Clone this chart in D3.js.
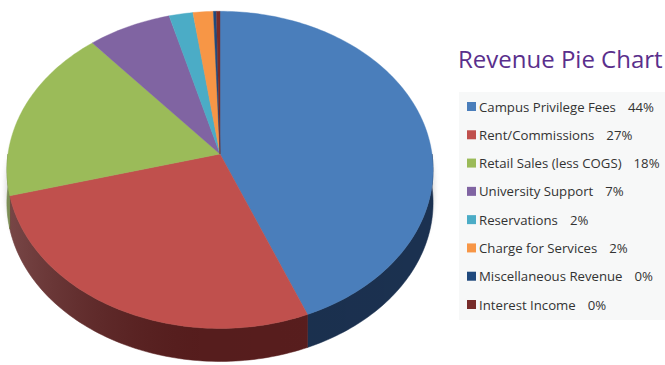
<!DOCTYPE html>
<html>
<head>
<meta charset="utf-8">
<script src="https://cdn.jsdelivr.net/npm/d3@7"></script>
<style>
  body { margin: 0; background: #fff; }
  svg { display: block; }
</style>
</head>
<body>
<div id="chart"></div>
<script>
// chart data
var categories = ["Campus Privilege Fees", "Rent/Commissions", "Retail Sales (less COGS)",
    "University Support", "Reservations", "Charge for Services",
    "Miscellaneous Revenue", "Interest Income"];
var values = [44, 27, 18, 7, 2, 1.7, 0.25, 0.3];
var percentLabels = ["44%", "27%", "18%", "7%", "2%", "2%", "0%", "0%"];
var colors = ["#4a7ebb", "#c0504d", "#9bbb59", "#8064a2", "#4bacc6", "#f79646", "#1f497d", "#772c2a"];
var sideColors = ["#1b3150", "#5a1e1e", "#5f7530", "#4c3b63", "#2d6a7a", "#9a5a27", "#102a4a", "#4a1818"];

var width = 665, height = 365;
// tilted disc seen in slight perspective
var cx = 220, cy = 154, rx = 212, ry = 157, depth = 33, persp = 0.1;

var svg = d3.select("#chart").append("svg").attr("width", width).attr("height", height);
var defs = svg.append("defs");

// soft shadow beneath the pie
defs.append("filter").attr("id", "blur")
    .attr("x", "-10%").attr("y", "-10%").attr("width", "120%").attr("height", "120%")
    .append("feGaussianBlur").attr("stdDeviation", 3);

// shading across the side wall
var grad = defs.append("linearGradient").attr("id", "sideShade")
    .attr("gradientUnits", "userSpaceOnUse")
    .attr("x1", cx - rx).attr("x2", cx + rx).attr("y1", 0).attr("y2", 0);
grad.append("stop").attr("offset", "0%").attr("stop-color", "#fff").attr("stop-opacity", 0.18);
grad.append("stop").attr("offset", "45%").attr("stop-color", "#000").attr("stop-opacity", 0.05);
grad.append("stop").attr("offset", "100%").attr("stop-color", "#000").attr("stop-opacity", 0);

var pie = d3.pie().sort(null).value(function(d) { return d; });
var arcs = pie(values);

function rim(a, dy) {
    var u = Math.sin(a), v = -Math.cos(a);
    var f = 1 / (1 - persp * v);
    return [cx + rx * u * f, cy + ry * v * f + (dy || 0)];
}
function rimPoints(a0, a1, dy) {
    var n = Math.max(2, Math.ceil(Math.abs(a1 - a0) / 0.02));
    return d3.range(n + 1).map(function(i) { return rim(a0 + (a1 - a0) * i / n, dy); });
}
var line = d3.line();

// shadow
svg.append("path")
    .attr("d", line(rimPoints(0, 2 * Math.PI, depth / 2 + 2)) + "Z")
    .attr("fill", "#888").attr("opacity", 0.45)
    .attr("filter", "url(#blur)");

// side walls (front half only)
var g = svg.append("g");
arcs.forEach(function(d, i) {
    var b0 = Math.max(d.startAngle, Math.PI / 2);
    var b1 = Math.min(d.endAngle, 3 * Math.PI / 2);
    if (b1 <= b0) return;
    var pts = rimPoints(b0, b1, 0).concat(rimPoints(b1, b0, depth));
    g.append("path").attr("d", line(pts) + "Z").attr("fill", sideColors[i]).attr("stroke", sideColors[i]).attr("stroke-width", 0.5);
    g.append("path").attr("d", line(pts) + "Z").attr("fill", "url(#sideShade)");
});

// top faces
arcs.forEach(function(d, i) {
    var pts = [[cx, cy]].concat(rimPoints(d.startAngle, d.endAngle, 0));
    g.append("path").attr("d", line(pts) + "Z")
        .attr("fill", colors[i]).attr("stroke", colors[i]).attr("stroke-width", 0.4);
});

// title
svg.append("text").attr("x", 458).attr("y", 68)
    .attr("font-family", "Open Sans, sans-serif").attr("font-size", 24)
    .attr("fill", "#5a2f8c").text("Revenue Pie Chart");

// legend
var legend = svg.append("g");
legend.append("rect").attr("x", 459).attr("y", 92).attr("width", 206).attr("height", 228).attr("fill", "#f7f8f8");
var rowY = d3.scalePoint().domain(d3.range(categories.length)).range([107, 305]);
var items = legend.selectAll("g.item").data(categories).enter().append("g")
    .attr("class", "item")
    .attr("transform", function(d, i) { return "translate(467," + rowY(i) + ")"; });
items.append("rect").attr("x", 0).attr("y", -5).attr("width", 9).attr("height", 9)
    .attr("fill", function(d, i) { return colors[i]; });
var txt = items.append("text").attr("x", 12).attr("y", 4.5)
    .attr("font-family", "Open Sans, sans-serif").attr("font-size", 13.2).attr("fill", "#333");
txt.append("tspan").text(function(d) { return d; });
txt.append("tspan").attr("dx", 12).text(function(d, i) { return percentLabels[i]; });
</script>
</body>
</html>
